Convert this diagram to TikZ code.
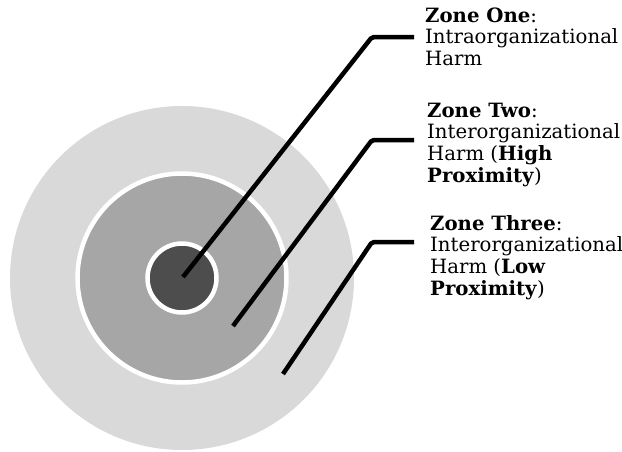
\documentclass[tikz,border=0pt]{standalone}
\usepackage{fontspec}
\setmainfont{DejaVu Serif}
\definecolor{ringout}{RGB}{217,217,217}
\definecolor{ringmid}{RGB}{166,166,166}
\definecolor{ringin}{RGB}{77,77,77}
\tikzset{
  zone/.style={circle, draw=white, line width=4.5pt, inner sep=0pt},
  leader/.style={line width=4.5pt, black, rounded corners=2pt},
  label/.style={anchor=north west, inner sep=0pt, align=left,
    font=\fontsize{19.7}{21.7}\selectfont}
}
\begin{document}
\begin{tikzpicture}[x=1pt,y=-1pt]
\useasboundingbox (0,0) rectangle (622,451);
\fill[ringout] (182,278) circle (172);
\node[zone, fill=ringmid, minimum size=209pt] (mid) at (182,278) {};
\node[zone, fill=ringin, minimum size=69pt] (inn) at (182,278) {};
\coordinate (a1) at (183,277);
\coordinate (e1) at (372,37);
\coordinate (h1) at (414,37);
\coordinate (a2) at (233,326);
\coordinate (e2) at (372,140);
\coordinate (h2) at (414,140);
\coordinate (a3) at (283,374);
\coordinate (e3) at (372,242);
\coordinate (h3) at (414,242);
\draw[leader] (a1) -- (e1) -- (h1);
\draw[leader] (a2) -- (e2) -- (h2);
\draw[leader] (a3) -- (e3) -- (h3);
\node[label] (t1) at (425,7.3) {\textbf{Zone One}:\\Intraorganizational\\Harm};
\node[label] (t2) at (427,102.6) {\textbf{Zone Two}:\\Interorganizational\\Harm (\textbf{High}\\\textbf{Proximity})};
\node[label] (t3) at (430,215) {\textbf{Zone Three}:\\Interorganizational\\Harm (\textbf{Low}\\\textbf{Proximity})};
\end{tikzpicture}
\end{document}
